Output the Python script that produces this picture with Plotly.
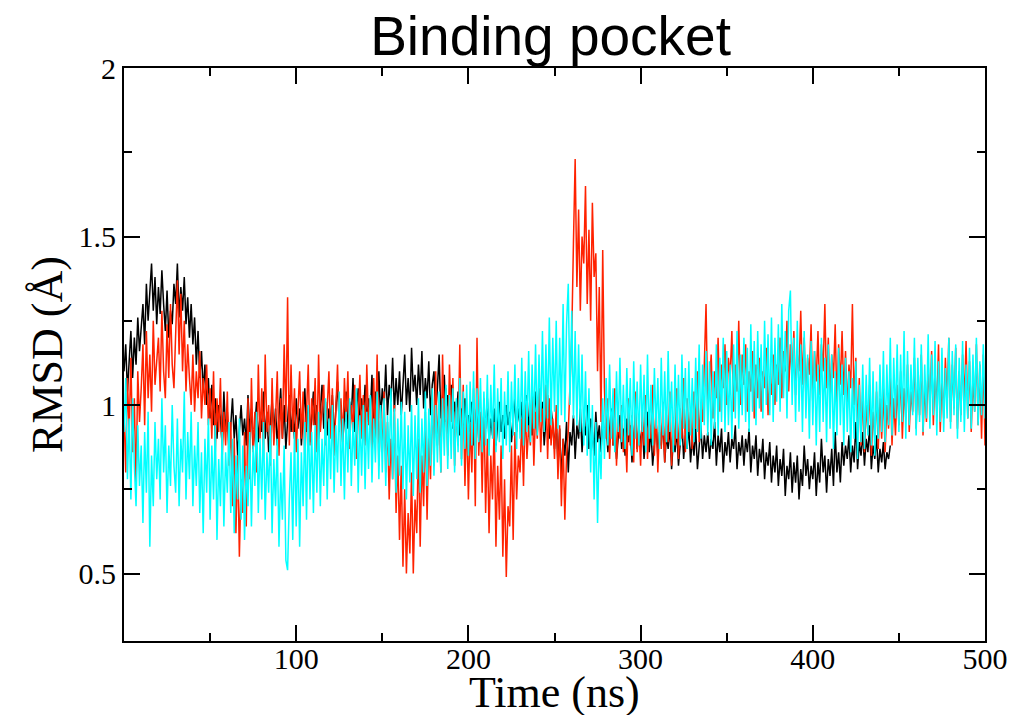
import plotly.graph_objects as go

# ---- data (1 ns sampling) ----
rmsd_black = [
    1.10, 1.18, 1.04, 1.15, 1.22, 1.08, 1.20, 1.12, 1.26, 1.16,
    1.24, 1.30, 1.18, 1.36, 1.25, 1.33, 1.42, 1.28, 1.38, 1.24,
    1.35, 1.27, 1.40, 1.30, 1.22, 1.34, 1.20, 1.28, 1.24, 1.36,
    1.30, 1.42, 1.26, 1.35, 1.28, 1.38, 1.24, 1.32, 1.20, 1.30,
    1.18, 1.26, 1.12, 1.22, 1.08, 1.16, 1.04, 1.12, 1.00, 1.08,
    0.96, 1.06, 0.94, 1.02, 0.90, 1.00, 0.96, 0.88, 1.04, 0.92,
    0.98, 0.86, 0.95, 1.02, 0.90, 0.97, 0.85, 0.93, 1.00, 0.91,
    0.96, 0.88, 1.03, 0.92, 0.99, 0.87, 0.94, 1.01, 0.89, 0.97,
    0.92, 1.04, 0.90, 0.98, 0.86, 0.95, 1.02, 0.91, 0.99, 0.88,
    0.96, 1.05, 0.90, 1.00, 0.87, 0.96, 1.03, 0.92, 0.98, 0.90,
    1.02, 0.93, 0.99, 0.88, 0.96, 1.05, 0.92, 1.00, 0.89, 0.97,
    1.04, 0.94, 1.00, 0.90, 0.98, 1.06, 0.93, 1.01, 0.91, 0.99,
    0.95, 1.03, 0.90, 0.98, 1.07, 0.94, 1.00, 0.89, 0.97, 1.04,
    0.93, 1.01, 0.96, 1.08, 0.92, 0.99, 1.05, 0.94, 1.02, 0.96,
    1.06, 0.95, 1.02, 0.97, 1.09, 0.93, 1.04, 0.98, 1.10, 0.96,
    1.05, 0.99, 1.12, 0.97, 1.06, 1.01, 1.14, 0.98, 1.08, 1.00,
    1.10, 0.97, 1.06, 1.15, 1.00, 1.08, 0.98, 1.17, 1.04, 1.09,
    1.00, 1.12, 1.03, 1.16, 0.99, 1.08, 1.02, 1.13, 0.97, 1.06,
    1.10, 0.98, 1.05, 1.15, 0.96, 1.04, 1.09, 0.95, 1.03, 0.97,
    1.06, 0.93, 1.01, 0.96, 1.04, 0.91, 0.99, 0.94, 1.02, 0.90,
    0.97, 0.92, 1.01, 0.88, 0.95, 1.00, 0.90, 0.96, 0.87, 0.98,
    0.93, 1.02, 0.89, 0.96, 0.91, 0.99, 0.88, 0.95, 1.01, 0.92,
    0.97, 0.90, 1.00, 0.94, 0.98, 0.89, 0.96, 1.02, 0.92, 0.99,
    0.94, 1.01, 0.90, 0.97, 1.03, 0.93, 0.99, 0.91, 0.98, 1.04,
    0.92, 1.05, 0.95, 1.01, 0.88, 0.97, 1.03, 0.90, 0.99, 0.94,
    0.87, 0.96, 0.82, 0.93, 0.78, 0.90, 0.85, 0.95, 0.80, 0.92,
    0.88, 0.97, 0.84, 0.94, 0.90, 0.99, 0.86, 0.95, 0.91, 1.00,
    0.87, 0.96, 0.92, 0.85, 0.98, 0.89, 0.94, 0.86, 0.97, 0.90,
    0.95, 0.86, 0.93, 0.99, 0.88, 0.94, 0.84, 0.92, 0.97, 0.87,
    0.93, 0.85, 0.96, 0.89, 0.94, 0.83, 0.91, 0.97, 0.87, 0.93,
    0.88, 0.95, 0.84, 0.92, 0.98, 0.86, 0.93, 0.82, 0.90, 0.95,
    0.85, 0.92, 0.88, 0.96, 0.83, 0.91, 0.87, 0.94, 0.81, 0.90,
    0.86, 0.93, 0.82, 0.90, 0.95, 0.84, 0.91, 0.87, 0.94, 0.83,
    0.90, 0.85, 0.93, 0.81, 0.89, 0.94, 0.84, 0.91, 0.86, 0.92,
    0.84, 0.90, 0.87, 0.95, 0.82, 0.91, 0.86, 0.93, 0.80, 0.89,
    0.85, 0.92, 0.83, 0.90, 0.87, 0.94, 0.81, 0.89, 0.85, 0.91,
    0.82, 0.90, 0.86, 0.93, 0.80, 0.88, 0.84, 0.91, 0.79, 0.87,
    0.83, 0.90, 0.78, 0.86, 0.82, 0.89, 0.77, 0.85, 0.80, 0.88,
    0.76, 0.84, 0.79, 0.87, 0.73, 0.82, 0.78, 0.86, 0.74, 0.83,
    0.77, 0.85, 0.72, 0.81, 0.76, 0.88, 0.79, 0.84, 0.75, 0.82,
    0.78, 0.86, 0.73, 0.83, 0.77, 0.90, 0.80, 0.85, 0.74, 0.84,
    0.79, 0.87, 0.76, 0.92, 0.80, 0.86, 0.77, 0.89, 0.82, 0.88,
    0.84, 0.91, 0.80, 0.88, 0.83, 0.95, 0.81, 0.89, 0.85, 0.92,
    0.82, 0.90, 0.86, 0.94, 0.81, 0.88, 0.84, 0.91, 0.80, 0.87,
    0.83, 0.89, 0.81, 0.86, 0.84, 0.88,
]

rmsd_red = [
    0.98, 0.80, 1.08, 0.92, 1.14, 0.86, 1.02, 0.75, 1.10, 0.95,
    1.05, 1.18, 0.94, 1.22, 1.02, 1.15, 0.98, 1.25, 1.06, 1.12,
    1.20, 1.04, 1.28, 1.10, 1.02, 1.24, 1.08, 1.30, 1.12, 1.05,
    1.22, 1.37, 1.15, 1.33, 1.10, 1.25, 1.04, 1.18, 1.08, 1.00,
    1.15, 0.98, 1.10, 1.02, 1.16, 0.96, 1.08, 1.00, 1.12, 0.94,
    1.05, 0.90, 1.10, 0.86, 1.02, 0.92, 1.08, 0.84, 0.98, 0.88,
    1.04, 0.82, 0.95, 0.70, 0.90, 0.62, 0.85, 0.55, 0.78, 0.68,
    0.92, 0.64, 1.02, 0.78, 1.08, 0.86, 0.98, 0.80, 1.12, 0.90,
    1.05, 0.84, 1.15, 0.92, 1.00, 0.82, 1.08, 0.88, 0.96, 1.10,
    0.85, 1.02, 0.90, 1.18, 0.95, 1.32, 0.88, 1.12, 0.92, 1.05,
    0.86, 1.00, 1.10, 0.90, 1.04, 0.84, 0.98, 1.12, 0.88, 1.02,
    0.94, 1.08, 0.86, 1.15, 0.92, 1.00, 1.06, 0.88, 0.98, 1.10,
    0.90, 1.05, 0.85, 0.98, 1.12, 0.92, 1.02, 0.88, 1.08, 0.95,
    1.10, 0.87, 1.00, 0.93, 1.06, 0.84, 0.98, 1.09, 0.90, 1.03,
    0.88, 1.12, 0.94, 1.02, 0.85, 1.08, 0.90, 1.15, 0.82, 0.98,
    0.86, 1.04, 0.80, 0.95, 0.72, 0.90, 0.78, 1.00, 0.68, 0.85,
    0.60, 0.82, 0.52, 0.75, 0.50, 0.68, 0.56, 0.80, 0.50, 0.72,
    0.62, 0.90, 0.58, 0.85, 0.70, 0.98, 0.66, 0.92, 0.78, 1.05,
    0.82, 1.10, 0.88, 1.00, 0.80, 1.15, 0.92, 1.05, 0.85, 1.12,
    0.95, 1.08, 0.82, 1.00, 0.88, 1.18, 0.84, 1.06, 0.76, 0.98,
    0.72, 0.95, 0.80, 1.05, 0.70, 1.20, 0.85, 0.98, 0.74, 1.02,
    0.68, 0.90, 0.62, 0.85, 0.72, 0.95, 0.58, 0.82, 0.66, 0.88,
    0.55, 0.78, 0.49, 0.70, 0.64, 0.88, 0.60, 0.92, 0.72, 0.85,
    0.80, 0.96, 0.76, 1.00, 0.84, 0.94, 0.88, 1.04, 0.82, 0.98,
    0.90, 1.05, 0.86, 0.99, 0.92, 1.06, 0.84, 1.02, 0.88, 0.96,
    0.84, 1.00, 0.78, 0.94, 0.70, 0.90, 0.66, 0.85, 0.92, 1.05,
    1.20, 1.48, 1.73, 1.35, 1.58, 1.28, 1.50, 1.42, 1.65, 1.30,
    1.52, 1.25, 1.60, 1.38, 1.45, 1.10, 1.35, 0.95, 1.46, 1.05,
    0.90, 1.02, 0.84, 0.98, 0.88, 1.05, 0.82, 0.96, 0.90, 1.00,
    0.86, 0.94, 0.80, 1.02, 0.88, 0.97, 0.83, 1.04, 0.86, 0.95,
    0.82, 0.98, 0.88, 1.03, 0.84, 0.96, 0.90, 1.06, 0.85, 0.99,
    0.80, 0.94, 0.87, 1.01, 0.83, 0.97, 0.89, 1.04, 0.82, 0.95,
    0.88, 1.05, 0.84, 0.99, 0.90, 1.08, 0.86, 1.02, 0.92, 0.98,
    0.87, 1.04, 0.93, 1.10, 0.89, 1.00, 0.95, 1.12, 1.30, 0.98,
    1.05, 1.15, 0.96, 1.10, 1.02, 1.20, 0.98, 1.12, 1.05, 1.18,
    1.00, 1.14, 1.08, 1.22, 0.98, 1.12, 1.04, 1.25, 1.00, 1.15,
    1.06, 1.18, 0.98, 1.10, 1.04, 1.16, 0.96, 1.12, 1.02, 1.14,
    0.98, 1.10, 1.05, 1.17, 0.97, 1.08, 1.03, 1.15, 1.00, 1.12,
    1.06, 1.20, 1.02, 1.16, 1.10, 1.25, 1.04, 1.18, 1.08, 1.22,
    1.03, 1.15, 1.10, 1.28, 1.06, 1.20, 1.02, 1.14, 1.09, 1.24,
    1.00, 1.16, 1.07, 1.22, 1.03, 1.18, 1.10, 1.30, 1.05, 1.20,
    1.02, 1.15, 1.08, 1.24, 1.00, 1.18, 1.06, 1.22, 1.03, 1.16,
    0.98, 1.12, 1.05, 1.30, 1.00, 1.14, 0.92, 1.08, 0.88, 1.04,
    0.86, 1.00, 0.92, 1.06, 0.85, 0.98, 0.90, 1.04, 0.87, 1.02,
    0.90, 1.05, 0.86, 1.00, 0.93, 1.08, 0.88, 1.02, 0.91, 1.06,
    0.94, 1.10, 0.90, 1.05, 0.96, 1.12, 0.92, 1.04, 0.98, 1.14,
    0.93, 1.08, 0.97, 1.15, 0.91, 1.06, 0.95, 1.12, 0.99, 1.16,
    0.94, 1.10, 0.98, 1.18, 0.92, 1.08, 0.96, 1.14, 1.00, 1.20,
    0.95, 1.12, 0.99, 1.17, 0.93, 1.10, 0.97, 1.15, 1.01, 1.19,
    0.96, 1.13, 0.92, 1.08, 0.98, 1.18, 0.94, 1.12, 0.90, 1.15,
    0.88,
]

rmsd_cyan = [
    0.92, 1.08, 0.78, 0.96, 0.72, 1.02, 0.82, 0.70, 0.94, 0.76,
    0.88, 0.65, 0.92, 0.74, 0.98, 0.58, 0.85, 0.70, 0.95, 0.78,
    0.90, 0.72, 1.02, 0.80, 0.94, 0.68, 0.88, 0.76, 1.00, 0.82,
    0.74, 0.96, 0.70, 0.90, 0.80, 1.04, 0.72, 0.92, 0.78, 0.98,
    0.70, 0.88, 0.76, 0.95, 0.68, 0.86, 0.62, 0.90, 0.74, 0.96,
    0.66, 0.88, 0.72, 0.94, 0.60, 0.84, 0.70, 0.92, 0.64, 0.86,
    0.74, 0.95, 0.68, 0.90, 0.62, 0.85, 0.72, 0.96, 0.66, 0.88,
    0.60, 0.82, 0.70, 0.92, 0.64, 0.88, 0.76, 0.98, 0.68, 0.90,
    0.72, 0.95, 0.66, 0.86, 0.74, 0.94, 0.62, 0.84, 0.70, 0.90,
    0.58, 0.80, 0.66, 0.88, 0.54, 0.51, 0.72, 0.86, 0.60, 0.92,
    0.64, 0.90, 0.58, 0.86, 0.70, 0.95, 0.66, 1.00, 0.72, 0.92,
    0.68, 0.94, 0.74, 0.98, 0.70, 0.90, 0.76, 1.02, 0.72, 0.96,
    0.78, 1.00, 0.74, 0.94, 0.80, 1.04, 0.76, 0.96, 0.72, 0.98,
    0.80, 1.02, 0.76, 0.95, 0.82, 1.05, 0.74, 0.97, 0.79, 1.00,
    0.75, 0.98, 0.81, 1.03, 0.77, 0.96, 0.83, 1.04, 0.78, 1.00,
    0.80, 1.02, 0.76, 0.97, 0.82, 1.05, 0.78, 0.99, 0.74, 0.96,
    0.79, 1.01, 0.75, 0.98, 0.72, 0.94, 0.77, 1.00, 0.73, 0.97,
    0.78, 1.02, 0.74, 0.96, 0.80, 1.04, 0.76, 0.99, 0.82, 1.05,
    0.79, 1.00, 0.83, 1.04, 0.80, 1.02, 0.85, 1.06, 0.81, 1.03,
    0.84, 1.05, 0.80, 1.02, 0.86, 1.08, 0.82, 1.04, 0.87, 1.06,
    0.85, 1.07, 0.88, 1.10, 0.84, 1.05, 0.89, 1.08, 0.86, 1.04,
    0.88, 1.09, 0.85, 1.06, 0.90, 1.12, 0.86, 1.05, 0.89, 1.08,
    0.84, 1.04, 0.88, 1.10, 0.86, 1.07, 0.91, 1.12, 0.87, 1.08,
    0.90, 1.14, 0.88, 1.10, 0.92, 1.16, 0.89, 1.12, 0.93, 1.18,
    0.91, 1.15, 0.95, 1.22, 0.92, 1.18, 0.96, 1.26, 0.94, 1.20,
    0.98, 1.25, 0.93, 1.20, 0.97, 1.30, 0.95, 1.24, 1.36, 1.00,
    1.28, 0.96, 1.22, 0.94, 1.18, 0.92, 1.15, 0.88, 1.10, 0.85,
    1.05, 0.80, 1.00, 0.72, 0.95, 0.65, 0.90, 0.78, 1.02, 0.84,
    1.08, 0.88, 1.12, 0.90, 1.05, 0.86, 1.10, 0.92, 1.14, 0.89,
    1.06, 0.87, 1.11, 0.91, 1.08, 0.85, 1.13, 0.90, 1.07, 0.88,
    1.12, 0.92, 1.09, 0.86, 1.15, 0.90, 1.06, 0.88, 1.11, 0.93,
    1.08, 0.87, 1.14, 0.91, 1.10, 0.89, 1.16, 0.92, 1.07, 0.86,
    1.12, 0.90, 1.09, 0.88, 1.15, 0.93, 1.11, 0.87, 1.13, 0.91,
    1.08, 0.89, 1.14, 0.92, 1.18, 0.90, 1.12, 0.94, 1.16, 0.91,
    1.13, 0.88, 1.10, 0.93, 1.18, 0.91, 1.14, 0.95, 1.20, 0.92,
    1.16, 0.94, 1.12, 0.90, 1.18, 0.96, 1.22, 0.93, 1.15, 0.97,
    1.20, 0.95, 1.17, 0.92, 1.24, 0.98, 1.19, 0.94, 1.22, 0.99,
    1.18, 0.96, 1.25, 1.00, 1.21, 0.97, 1.26, 0.95, 1.20, 1.01,
    1.24, 0.98, 1.30, 1.02, 1.22, 0.96, 1.28, 1.34, 1.00, 1.20,
    0.95, 1.25, 0.98, 1.18, 0.92, 1.22, 0.96, 1.15, 0.90, 1.19,
    0.94, 1.16, 0.88, 1.12, 0.92, 1.20, 0.95, 1.14, 0.89, 1.18,
    0.93, 1.15, 0.87, 1.10, 0.91, 1.17, 0.94, 1.12, 0.88, 1.14,
    0.92, 1.10, 0.86, 1.08, 0.90, 1.13, 0.84, 1.06, 0.89, 1.12,
    0.87, 1.09, 0.91, 1.14, 0.88, 1.10, 0.85, 1.07, 0.90, 1.12,
    0.92, 1.16, 0.89, 1.12, 0.94, 1.20, 0.91, 1.14, 0.96, 1.18,
    0.92, 1.15, 0.95, 1.22, 0.90, 1.16, 0.94, 1.12, 0.97, 1.20,
    0.91, 1.14, 0.95, 1.18, 0.92, 1.12, 0.96, 1.21, 0.93, 1.15,
    0.97, 1.19, 0.91, 1.13, 0.95, 1.17, 0.92, 1.11, 0.96, 1.20,
    0.93, 1.16, 0.97, 1.18, 0.90, 1.14, 0.95, 1.19, 0.92, 1.12,
    0.96, 1.17, 0.93, 1.15, 0.98, 1.20, 0.94, 1.13, 0.97, 1.18,
    0.96,
]

# sampling times in ns (one frame per ns)
time_black = list(range(len(rmsd_black)))
time_red = list(range(len(rmsd_red)))
time_cyan = list(range(len(rmsd_cyan)))

x_tickvals = [100, 200, 300, 400, 500]
x_minor = [50, 150, 250, 350, 450]
y_tickvals = [0.5, 1, 1.5, 2]
y_ticktext = ["0.5", "1", "1.5", "2"]
y_minor = [0.75, 1.25, 1.75]

fig = go.Figure()
for t, v, c in [(time_black, rmsd_black, "#000000"),
                (time_red, rmsd_red, "#ff2200"),
                (time_cyan, rmsd_cyan, "#00ffff")]:
    fig.add_trace(go.Scatter(x=t, y=v, mode="lines",
                             line=dict(color=c, width=1.5),
                             showlegend=False, hoverinfo="skip"))

axis_common = dict(
    showgrid=False, zeroline=False, automargin=False,
    showline=True, linecolor="black", linewidth=2, mirror="ticks",
    ticks="inside", ticklen=16, tickwidth=1.5, tickcolor="black",
    tickfont=dict(family="Liberation Serif", size=30, color="black"),
)

fig.update_xaxes(
    range=[0, 500], tickmode="array", tickvals=x_tickvals,
    ticktext=[str(v) for v in x_tickvals],
    ticklabelstandoff=-10,
    minor=dict(tickmode="array", tickvals=x_minor, ticks="inside",
               ticklen=8, tickwidth=1.5, tickcolor="black"),
    **axis_common,
)
fig.update_yaxes(
    range=[0.3, 2.0], tickmode="array", tickvals=y_tickvals, ticktext=y_ticktext,
    minor=dict(tickmode="array", tickvals=y_minor, ticks="inside",
               ticklen=8, tickwidth=1.5, tickcolor="black"),
    title=dict(text="RMSD (Å)", font=dict(family="Liberation Serif", size=44, color="black"),
               standoff=2),
    **axis_common,
)

# x-axis title placed as an annotation just below the tick labels
fig.add_annotation(
    text="Time (ns)", showarrow=False,
    xref="paper", x=0.5, xanchor="center",
    yref="paper", y=0, yanchor="top", yshift=-25,
    font=dict(family="Liberation Serif", size=44, color="black"),
)

fig.update_layout(
    width=1014, height=715,
    margin=dict(l=124, r=29, t=68, b=74),
    paper_bgcolor="white", plot_bgcolor="white",
    title=dict(text="Binding pocket", x=0.543, xanchor="center", y=0.95, yanchor="middle",
               font=dict(family="Liberation Sans", size=55, color="black")),
)

fig.write_html("out.html", config={"displayModeBar": False},
               post_script="document.body.style.margin='0px';")
